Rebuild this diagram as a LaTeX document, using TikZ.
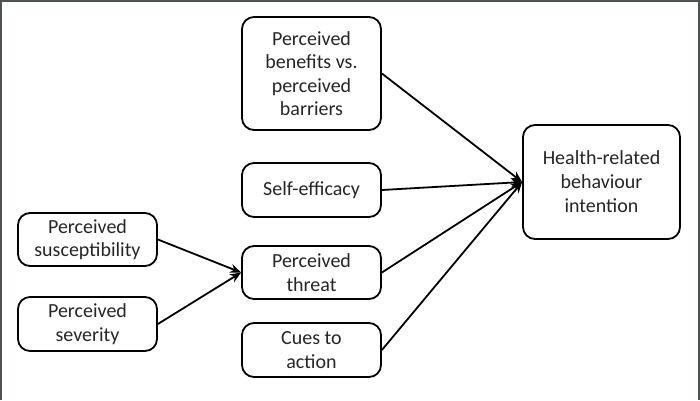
\documentclass[tikz,border=0pt]{standalone}
\usepackage{fontspec}
\setmainfont{Carlito}
\usetikzlibrary{arrows.meta}
\definecolor{framegray}{HTML}{4D5252}
\begin{document}
\begin{tikzpicture}[x=1pt,y=-1pt,
  box/.style={draw=black, line width=1.8pt, rounded corners=12pt, align=center,
    minimum width=139pt, inner sep=0pt, font=\fontsize{20}{23.5}\selectfont, text=black!85},
  arr/.style={line width=1.8pt, -{Stealth[length=11pt,width=9pt]}}]
\useasboundingbox (0,0) rectangle (700,400);
\fill[white] (0,0) rectangle (700,400);
\draw[framegray, line width=2.5pt] (1.2,400) -- (1.2,1.2) -- (698.8,1.2) -- (698.8,400);

\node[box, minimum height=113pt] (ben) at (311.5,73.5) {Perceived\\benefits vs.\\perceived\\barriers};
\node[box, minimum height=54pt] (self) at (311.5,190) {Self-efficacy};
\node[box, minimum height=53pt] (threat) at (311.5,272.5) {Perceived\\threat};
\node[box, minimum height=54pt] (cues) at (311.5,350) {Cues to\\action};
\node[box, minimum height=53pt] (sus) at (87.5,239.5) {Perceived\\susceptibility};
\node[box, minimum height=54pt] (sev) at (87.5,324) {Perceived\\severity};
\node[box, minimum width=157pt, minimum height=114pt, font=\fontsize{20}{24}\selectfont] (health) at (601.5,182) {Health-related\\behaviour\\intention};

\draw[arr] (sus.east) -- (threat.west);
\draw[arr] (sev.east) -- (threat.west);
\draw[arr] (ben.east) -- (health.west);
\draw[arr] (self.east) -- (health.west);
\draw[arr] (threat.east) -- (health.west);
\draw[arr] (cues.east) -- (health.west);
\end{tikzpicture}
\end{document}
